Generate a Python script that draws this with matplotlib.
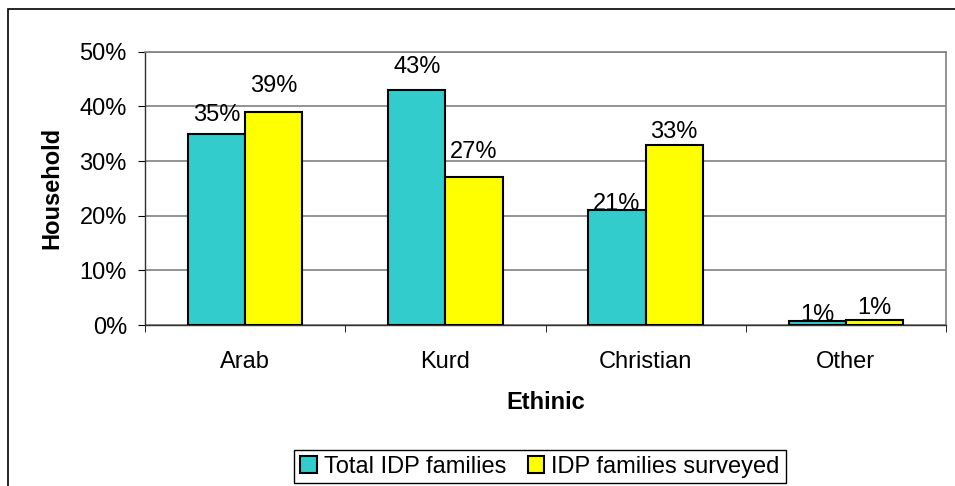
import matplotlib

matplotlib.use("Agg")
import matplotlib.pyplot as plt
import numpy as np
from matplotlib.patches import Rectangle
from matplotlib.ticker import FixedLocator, NullFormatter, PercentFormatter

plt.rcParams["font.family"] = ["Liberation Sans", "DejaVu Sans"]

categories = ["Arab", "Kurd", "Christian", "Other"]
total_idp = [0.35, 0.43, 0.21, 0.008]
surveyed_idp = [0.39, 0.27, 0.33, 0.010]
series_names = ["Total IDP families", "IDP families surveyed"]

# label baseline offsets above each bar (points), the way the workbook placed them
total_label_pad = [9, 12, 0, 0]
surveyed_label_pad = [14, 14, 5, 4]

CYAN = "#33CCCC"
YELLOW = "#FFFF00"
GRID = "#808080"
FS = 17

fig = plt.figure(figsize=(9.55, 4.86), dpi=100)
# chart area frame (runs off the right/bottom edge)
fig.patches.append(Rectangle((8 / 955, -0.05), 1.0, 1 - 9 / 486 + 0.05,
                             transform=fig.transFigure, fill=False,
                             edgecolor="black", linewidth=1.2))

ax = fig.add_axes([145 / 955, 1 - 325 / 486, (946 - 145) / 955, (325 - 51.7) / 486])

x = np.arange(len(categories))
w = 1 / 3.5
b1 = ax.bar(x - w / 2, total_idp, w, color=CYAN, edgecolor="black",
            linewidth=1.5, label=series_names[0], zorder=3)
b2 = ax.bar(x + w / 2, surveyed_idp, w, color=YELLOW, edgecolor="black",
            linewidth=1.5, label=series_names[1], zorder=3)

for bars, vals, pads in ((b1, total_idp, total_label_pad), (b2, surveyed_idp, surveyed_label_pad)):
    for rect, v, p in zip(bars, vals, pads):
        ax.annotate(f"{v:.0%}", (rect.get_x() + rect.get_width() / 2, v),
                    xytext=(0, p), textcoords="offset points",
                    ha="center", va="baseline", fontsize=FS, zorder=4)

ax.set_xlim(-0.5, len(categories) - 0.5)
ax.set_ylim(0, 0.5)
ax.yaxis.set_major_locator(FixedLocator(np.arange(0, 0.51, 0.1)))
ax.yaxis.set_major_formatter(PercentFormatter(1.0, decimals=0))
ax.set_xticks(x)
ax.set_xticklabels(categories)
ax.xaxis.set_minor_locator(FixedLocator(np.arange(-0.5, len(categories), 1.0)))
ax.xaxis.set_minor_formatter(NullFormatter())
ax.tick_params(axis="x", which="major", length=0, pad=19, labelsize=FS)
ax.tick_params(axis="x", which="minor", length=5, direction="out", color="black")
ax.tick_params(axis="y", length=5, direction="out", pad=8, labelsize=FS, color="black")

ax.grid(axis="y", color=GRID, linewidth=1.2, zorder=0)
ax.set_axisbelow(True)
for side in ("top", "right"):
    ax.spines[side].set_color(GRID)
    ax.spines[side].set_linewidth(1.2)
for side in ("left", "bottom"):
    ax.spines[side].set_color("#303030")
    ax.spines[side].set_linewidth(1.0)

ax.set_xlabel("Ethinic", fontsize=FS, fontweight="bold", labelpad=13)
ax.set_ylabel("Household", fontsize=FS, fontweight="bold", labelpad=12)

fig.legend(handles=[b1, b2], loc="center", bbox_to_anchor=(540 / 955, 1 - 466.5 / 486),
           ncol=2, fontsize=FS, frameon=True, fancybox=False, shadow=False,
           edgecolor="black", framealpha=1, handlelength=0.7, handleheight=0.7,
           handletextpad=0.3, columnspacing=0.9, borderpad=0.25, borderaxespad=0)
fig.legends[0].get_frame().set_linewidth(1.0)

fig.savefig("out.png", dpi=100)
